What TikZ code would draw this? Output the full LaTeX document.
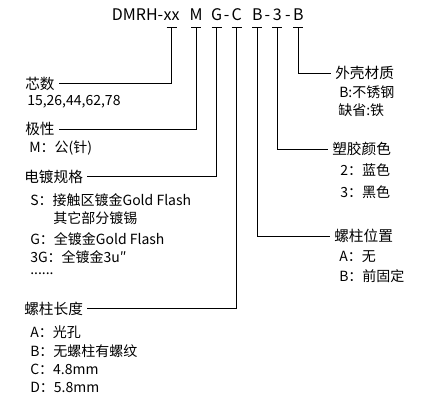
\documentclass[tikz,border=0pt]{standalone}
\usepackage{fontspec}
\setmainfont{Noto Sans CJK SC}
\usepackage{xcolor}
\usepackage{tikz}
\usetikzlibrary{positioning}

\tikzset{
  code/.style={font=\fontsize{12pt}{14pt}\selectfont, anchor=south, inner xsep=0pt, inner ysep=4.5pt, text height=9pt, text depth=0pt},
  hdr/.style={font=\fontsize{11pt}{13pt}\selectfont, anchor=west, inner xsep=3pt, inner ysep=1pt},
  item/.style={font=\fontsize{10.5pt}{12pt}\selectfont, anchor=west, inner xsep=3pt, inner ysep=1pt},
  lead/.style={draw, line width=0.6pt}
}

\begin{document}
\begin{tikzpicture}[x=0.75pt, y=-0.75pt]
\useasboundingbox (0,0) rectangle (421,396);

% part number
\node[code] (cxx) at (171.7,27) {xx};
\node[code, anchor=east] (dmrh) at (cxx.west) {DMRH-};
\node[code] (cM) at (196,27) {M};
\node[code] (cG) at (216.7,27) {G};
\node[code] (d1) at (226.7,27) {-};
\node[code] (cC) at (236.7,27) {C};
\node[code] (cB) at (257.3,27) {B};
\node[code] (d2) at (267.3,27) {-};
\node[code] (c3) at (277.3,27) {3};
\node[code] (d3) at (287.8,27) {-};
\node[code] (cBB) at (298.3,27) {B};
\foreach \n in {cxx,cM,cG,cC,cB,c3,cBB}
  \draw[lead] ([xshift=-3.75pt]\n.south) -- ([xshift=3.75pt]\n.south);

% left side
\node[hdr] (xinshu) at (21,83.5) {芯数};
\node[item] (xinshu1) at (23,102) {15,26,44,62,78};
\node[hdr] (jixing) at (21,129) {极性};
\node[item] (jixing1) at (25,148) {M：公(针)};
\node[hdr] (diandu) at (20,176.5) {电镀规格};
\node[item] (diandu1) at (26,200) {S：接触区镀金Gold Flash};
\node[item] (diandu2) at (49,218) {其它部分镀锡};
\node[item] (diandu3) at (26,239) {G：全镀金Gold Flash};
\node[item] (diandu4) at (26,257) {3G：全镀金3u″};
\node[item] (diandu5) at (26,274) {......};
\node[hdr] (luozhu) at (20,308.5) {螺柱长度};
\node[item] (luozhu1) at (26,332) {A：光孔};
\node[item] (luozhu2) at (26,351) {B：无螺柱有螺纹};
\node[item] (luozhu3) at (26,369) {C：4.8mm};
\node[item] (luozhu4) at (26,387) {D：5.8mm};

% right side
\node[hdr] (waike) at (331,73) {外壳材质};
\node[item] (waike1) at (335,92) {B:不锈钢};
\node[item] (waike2) at (334,110) {缺省:铁};
\node[hdr] (sujiao) at (328,149.3) {塑胶颜色};
\node[item] (sujiao1) at (336,170) {2：蓝色};
\node[item] (sujiao2) at (336,192) {3：黑色};
\node[hdr] (weizhi) at (330,236) {螺柱位置};
\node[item] (weizhi1) at (335,257) {A：无};
\node[item] (weizhi2) at (335,276) {B：前固定};

% leaders
\draw[lead] (cxx.south) |- (xinshu.east);
\draw[lead] (cM.south) |- (jixing.east);
\draw[lead] (cG.south) |- (diandu.east);
\draw[lead] (cC.south) |- (luozhu.east);
\draw[lead] (cB.south) |- (weizhi.west);
\draw[lead] (c3.south) |- (sujiao.west);
\draw[lead] (cBB.south) |- (waike.west);
\end{tikzpicture}
\end{document}
